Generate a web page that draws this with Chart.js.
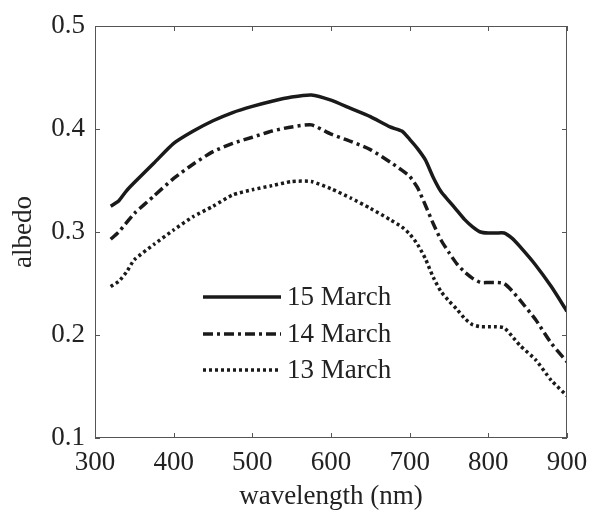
<!DOCTYPE html>
<html>
<head>
<meta charset="utf-8">
<script src="https://cdn.jsdelivr.net/npm/chart.js@4/dist/chart.umd.min.js"></script>
<style>
  html, body { margin: 0; padding: 0; background: #fff; }
  #wrap { width: 600px; height: 520px; }
</style>
</head>
<body>
<div id="wrap"><canvas id="albedoChart" width="600" height="520"></canvas></div>
<script>
// Datos
const wavelengths = [320, 330, 340, 350, 375, 400, 425, 450, 475, 500, 525, 550, 575, 600, 625, 650, 675, 690, 700, 710, 720, 730, 740, 750, 760, 770, 780, 790, 800, 810, 820, 830, 840, 860, 880, 900];
const march15 = [0.325, 0.330, 0.340, 0.348, 0.367, 0.386, 0.398, 0.408, 0.416, 0.422, 0.427, 0.431, 0.433, 0.428, 0.420, 0.412, 0.402, 0.398, 0.390, 0.381, 0.370, 0.353, 0.339, 0.330, 0.321, 0.312, 0.305, 0.300, 0.299, 0.299, 0.299, 0.294, 0.286, 0.268, 0.247, 0.223];
const march14 = [0.293, 0.300, 0.309, 0.318, 0.335, 0.352, 0.366, 0.378, 0.386, 0.392, 0.398, 0.402, 0.404, 0.395, 0.388, 0.380, 0.368, 0.360, 0.354, 0.343, 0.326, 0.308, 0.292, 0.280, 0.269, 0.261, 0.255, 0.251, 0.251, 0.251, 0.250, 0.243, 0.234, 0.215, 0.192, 0.174];
const march13 = [0.247, 0.252, 0.261, 0.273, 0.288, 0.302, 0.315, 0.325, 0.336, 0.341, 0.345, 0.349, 0.349, 0.342, 0.333, 0.323, 0.312, 0.305, 0.298, 0.288, 0.274, 0.256, 0.242, 0.233, 0.225, 0.216, 0.210, 0.208, 0.208, 0.208, 0.207, 0.199, 0.190, 0.176, 0.156, 0.141];
const seriesLabels = ['15 March', '14 March', '13 March'];
const xTicks = [300, 400, 500, 600, 700, 800, 900];
const yTicks = [0.1, 0.2, 0.3, 0.4, 0.5];

const serif = "'Liberation Serif', 'DejaVu Serif', serif";

function toPoints(values) {
    return wavelengths.map((w, i) => ({ x: w, y: values[i] }));
}

// Marco, marcas interiores y leyenda dentro del gráfico
const framePlugin = {
    id: 'frame',
    afterDraw(chart) {
        const { ctx, chartArea: a, scales } = chart;
        ctx.save();
        ctx.strokeStyle = '#555';
        ctx.lineWidth = 1;
        ctx.strokeRect(a.left + 0.5, a.top + 0.5, a.right - a.left - 1, a.bottom - a.top - 1);
        ctx.beginPath();
        xTicks.forEach(v => {
            const px = Math.round(scales.x.getPixelForValue(v)) + 0.5;
            ctx.moveTo(px, a.bottom); ctx.lineTo(px, a.bottom - 5);
            ctx.moveTo(px, a.top); ctx.lineTo(px, a.top + 5);
        });
        yTicks.forEach(v => {
            const py = Math.round(scales.y.getPixelForValue(v)) + 0.5;
            ctx.moveTo(a.left, py); ctx.lineTo(a.left + 5, py);
            ctx.moveTo(a.right, py); ctx.lineTo(a.right - 5, py);
        });
        ctx.stroke();

        // leyenda
        const rows = [297, 334, 370];
        chart.data.datasets.forEach((ds, i) => {
            ctx.strokeStyle = ds.borderColor;
            ctx.lineWidth = ds.borderWidth;
            ctx.setLineDash(ds.borderDash || []);
            ctx.beginPath();
            ctx.moveTo(203, rows[i]);
            ctx.lineTo(281, rows[i]);
            ctx.stroke();
            ctx.setLineDash([]);
            ctx.fillStyle = '#222';
            ctx.font = '27px ' + serif;
            ctx.textBaseline = 'middle';
            ctx.textAlign = 'left';
            ctx.fillText(ds.label, 287, rows[i] + 1);
        });
        ctx.restore();
    }
};

const ctx = document.getElementById('albedoChart').getContext('2d');
new Chart(ctx, {
    type: 'line',
    data: {
        datasets: [
            { label: seriesLabels[0], data: toPoints(march15), borderColor: '#1a1a1a', borderWidth: 3.5, borderDash: [] },
            { label: seriesLabels[1], data: toPoints(march14), borderColor: '#1a1a1a', borderWidth: 3.5, borderDash: [10, 4, 3, 4] },
            { label: seriesLabels[2], data: toPoints(march13), borderColor: '#1a1a1a', borderWidth: 3.5, borderDash: [3, 3] }
        ]
    },
    options: {
        responsive: false,
        animation: false,
        layout: { padding: { top: 26, right: 33, left: 0, bottom: 0 } },
        elements: {
            point: { radius: 0 },
            line: { tension: 0.2, fill: false }
        },
        plugins: {
            legend: { display: false },
            tooltip: { enabled: false }
        },
        scales: {
            x: {
                type: 'linear',
                min: 300,
                max: 900,
                afterBuildTicks: s => { s.ticks = xTicks.map(v => ({ value: v })); },
                afterFit: s => { s.height = 82; },
                grid: { display: false },
                border: { display: false },
                ticks: {
                    color: '#222',
                    font: { family: serif, size: 27 },
                    padding: 1
                },
                title: {
                    display: true,
                    text: 'wavelength (nm)',
                    color: '#222',
                    font: { family: serif, size: 27 },
                    padding: { top: 0, bottom: 7 }
                }
            },
            y: {
                type: 'linear',
                min: 0.1,
                max: 0.5,
                afterBuildTicks: s => { s.ticks = yTicks.map(v => ({ value: v })); },
                afterFit: s => { s.width = 95; },
                grid: { display: false },
                border: { display: false },
                ticks: {
                    color: '#222',
                    font: { family: serif, size: 27 },
                    padding: 2,
                    callback: v => v.toFixed(1)
                },
                title: {
                    display: true,
                    text: 'albedo',
                    color: '#222',
                    font: { family: serif, size: 27 },
                    padding: { top: 8, bottom: 0 }
                }
            }
        }
    },
    plugins: [framePlugin]
});
</script>
</body>
</html>
